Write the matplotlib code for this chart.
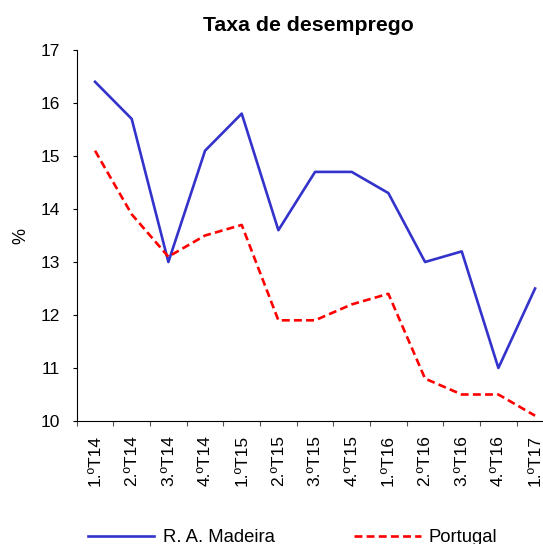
import matplotlib
matplotlib.use("Agg")
from matplotlib import pyplot as plt

plt.rcParams['font.family'] = ['Liberation Sans', 'DejaVu Sans']

# Data
quarters = ["1.ºT14", "2.ºT14", "3.ºT14", "4.ºT14", "1.ºT15", "2.ºT15", "3.ºT15",
            "4.ºT15", "1.ºT16", "2.ºT16", "3.ºT16", "4.ºT16", "1.ºT17"]
madeira = [16.4, 15.7, 13.0, 15.1, 15.8, 13.6, 14.7, 14.7, 14.3, 13.0, 13.2, 11.0, 12.5]
portugal = [15.1, 13.9, 13.1, 13.5, 13.7, 11.9, 11.9, 12.2, 12.4, 10.8, 10.5, 10.5, 10.1]

W, H = 543, 544
fig = plt.figure(figsize=(W / 100, H / 100), dpi=100)
# axes extends past the right edge, like the cropped original
ax = fig.add_axes([76.7 / W, 123 / H, 476.7 / W, 371 / H])

x = range(len(quarters))
ax.plot(x, madeira, color="#3333CC", lw=1.9, label="R. A. Madeira")
ax.plot(x, portugal, color="#FF0000", lw=1.9, ls=(0, (3, 1.6)), label="Portugal")

ax.set_xlim(-0.5, len(quarters) - 0.5)
ax.set_ylim(10, 17)
ax.set_yticks(range(10, 18))
# ticks sit between categories
ax.set_xticks([i - 0.5 for i in range(len(quarters) + 1)])
ax.set_xticklabels([])
ax.set_xticks(list(x), minor=True)
ax.set_xticklabels(quarters, minor=True, rotation=90, fontsize=12.5)
ax.tick_params(axis="x", which="minor", length=0, pad=10)
ax.tick_params(axis="x", which="major", length=3.5, color="#555555")
ax.tick_params(axis="y", length=3.2, labelsize=12.5, pad=9)

for s in ["top", "right"]:
    ax.spines[s].set_visible(False)

ax.set_ylabel("%", fontsize=13, labelpad=7.5)
ax.set_title("Taxa de desemprego", fontsize=15.3, fontweight="bold", pad=14, x=0.485)

fig.legend(loc="center", bbox_to_anchor=(0.539, 0.012), ncol=2, frameon=False,
           fontsize=13.3, handlelength=3.6, columnspacing=4.3, handletextpad=0.45)

fig.savefig("out.png", dpi=100)
